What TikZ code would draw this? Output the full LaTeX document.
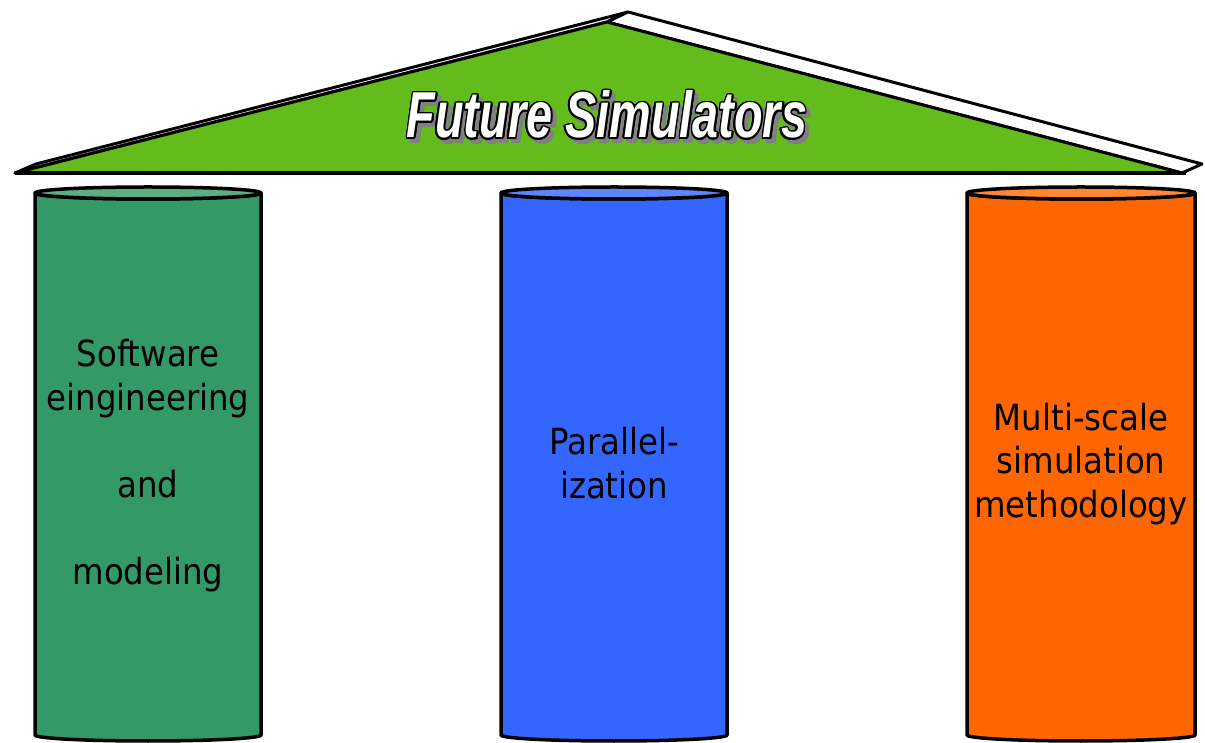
\documentclass[tikz,border=0pt]{standalone}
\usepackage{fontspec}
\setmainfont{DejaVu Sans}
\newfontfamily\pillarfont{DejaVu Sans Condensed}
\newfontfamily\rooffont[FakeStretch=0.72]{Liberation Sans}

\definecolor{roofgreen}{RGB}{100,187,28}
\definecolor{seabody}{RGB}{51,153,102}
\definecolor{seatop}{RGB}{92,172,132}
\definecolor{bluebody}{RGB}{51,102,255}
\definecolor{bluetop}{RGB}{92,134,255}
\definecolor{orangebody}{RGB}{255,102,0}
\definecolor{orangetop}{RGB}{255,134,50}
\definecolor{shadowgray}{RGB}{128,128,128}

% one pillar: centre x, half width, body colour, lid colour
\newcommand\drawpillar[4]{%
  \draw[pillarline, fill=#3]
    (#1-#2,549) -- (#1-#2,7)
    arc[start angle=180, end angle=360, x radius=#2, y radius=6]
    -- (#1+#2,549)
    arc[start angle=0, end angle=-180, x radius=#2, y radius=6] -- cycle;
  \draw[pillarline, fill=#4] (#1,549) ellipse [x radius=#2, y radius=6];
}
\newcommand\rooftitle{Future Simulators}

\begin{document}
\begin{tikzpicture}[x=1pt, y=1pt,
  roofline/.style={line width=3pt, draw=black, line join=round},
  pillarline/.style={line width=3.5pt, draw=black, line join=round},
  pillartext/.style={font=\pillarfont\fontsize{36}{43.6}\selectfont,
                     align=center, text=black, inner sep=0pt},
  titletext/.style={font=\rooffont\bfseries\itshape\fontsize{65}{70}\selectfont,
                    anchor=base, inner sep=0pt},
]
\useasboundingbox (0,0) rectangle (1205,742);
\clip (0,0) rectangle (1205,742);

% roof: a flat prism seen slightly from above
\coordinate (roofL)  at (15,569);
\coordinate (roofA)  at (607,720);
\coordinate (roofR)  at (1182,569);
\coordinate (roofBL) at (36,578);
\coordinate (roofB)  at (628,730);
\coordinate (roofBR) at (1202,578);
\coordinate (baseR)  at (1186,569);

\draw[roofline, fill=white] (roofL) -- (roofBL) -- (roofB) -- (roofA) -- cycle;
\draw[roofline, fill=white] (roofA) -- (roofB) -- (roofBR) -- (roofR) -- cycle;
\draw[roofline, fill=roofgreen] (roofL) -- (roofA) -- (roofR) -- cycle;
\draw[line width=4pt] (roofL) -- (baseR);

% title: grey drop shadow, black outline, white letters
\foreach \a in {0,22.5,...,337.5}
  \node[titletext, text=shadowgray, shift={(\a:1.7)}] at (611,600) {\rooftitle};
\foreach \a in {0,22.5,...,337.5}
  \node[titletext, text=black, shift={(\a:1.7)}] at (607,604) {\rooftitle};
\node[titletext, text=white] (title) at (607,604) {\rooftitle};

% pillars
\drawpillar{148}{113}{seabody}{seatop}
\drawpillar{614}{113}{bluebody}{bluetop}
\drawpillar{1081}{114}{orangebody}{orangetop}

\node[pillartext] (software) at (148,276)
  {Software\\eingineering\\[43.6pt]and\\[43.6pt]modeling};
\node[pillartext] (parallel) at (614,279) {Parallel-\\ization};
\node[pillartext] (multiscale) at (1081,278)
  {Multi-scale\\simulation\\methodology};
\end{tikzpicture}
\end{document}
